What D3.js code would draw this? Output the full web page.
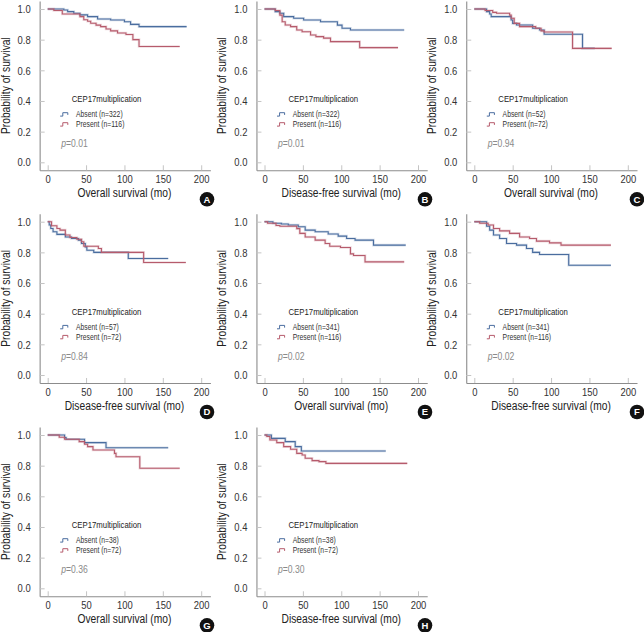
<!DOCTYPE html>
<html>
<head>
<meta charset="utf-8">
<script src="https://cdn.jsdelivr.net/npm/d3@7"></script>
<style>
  html, body { margin: 0; padding: 0; background: #fff; }
  svg { display: block; }
  text { font-family: 'Liberation Sans', Arial, sans-serif; }
</style>
</head>
<body>
<svg id="chart" width="644" height="632"></svg>
<script>
// ---------------- data ----------------
const xTicks = [0, 50, 100, 150, 200];
const yTicks = [0, 0.2, 0.4, 0.6, 0.8, 1.0];
const panelLetters = ["A", "B", "C", "D", "E", "F", "G", "H"];
const xTitles = ["Overall survival (mo)", "Disease-free survival (mo)", "Overall survival (mo)",
  "Disease-free survival (mo)", "Overall survival (mo)", "Disease-free survival (mo)",
  "Overall survival (mo)", "Disease-free survival (mo)"];
const yTitle = "Probability of survival";
const legendTitle = "CEP17multiplication";
const absentN = [322, 322, 52, 57, 341, 341, 38, 38];
const presentN = [116, 116, 72, 72, 116, 116, 72, 72];
const pValues = ["0.01", "0.01", "0.94", "0.84", "0.02", "0.02", "0.36", "0.30"];

// step curves: [time (mo), survival from that time on]
const absentA = [[0,1],[21,0.993],[26,0.983],[34,0.972],[42,0.962],[52,0.95],[65,0.935],[82,0.928],[100,0.917],[108,0.90],[119,0.885],[181,0.885]];
const presentA = [[0,1],[8,0.99],[19,0.967],[42,0.95],[47,0.93],[52,0.92],[56,0.907],[63,0.895],[69,0.885],[76,0.87],[82,0.857],[91,0.843],[102,0.834],[111,0.80],[119,0.755],[172,0.755]];
const absentB = [[0,1],[14,0.983],[20,0.972],[25,0.95],[38,0.94],[51,0.928],[73,0.917],[95,0.895],[101,0.874],[112,0.863],[182,0.863]];
const presentB = [[0,1],[14,0.99],[20,0.96],[23,0.917],[27,0.896],[34,0.885],[42,0.863],[49,0.852],[60,0.83],[67,0.82],[77,0.81],[86,0.787],[124,0.748],[174,0.748]];
const absentC = [[0,1],[16,0.983],[20,0.967],[22,0.95],[48,0.928],[50,0.906],[55,0.896],[76,0.874],[85,0.863],[91,0.835],[141,0.743],[157,0.743]];
const presentC = [[0,1],[14,0.99],[24,0.978],[29,0.972],[46,0.96],[48,0.94],[52,0.906],[59,0.885],[80,0.874],[87,0.857],[91,0.85],[128,0.743],[179,0.743]];
const absentD = [[0,1],[2,0.978],[4,0.956],[7,0.934],[12,0.917],[23,0.90],[31,0.89],[40,0.88],[44,0.858],[49,0.836],[51,0.814],[60,0.80],[105,0.76],[157,0.76]];
const presentD = [[0,1],[5,0.974],[12,0.956],[16,0.945],[23,0.913],[29,0.897],[38,0.886],[44,0.869],[47,0.84],[66,0.825],[70,0.80],[125,0.734],[180,0.734]];
const absentE = [[0,1],[11,0.99],[22,0.985],[31,0.978],[44,0.967],[53,0.945],[66,0.934],[83,0.92],[96,0.906],[107,0.89],[118,0.88],[142,0.847],[184,0.847]];
const presentE = [[0,1],[4,0.99],[15,0.975],[20,0.97],[42,0.955],[46,0.924],[53,0.90],[66,0.88],[79,0.858],[85,0.84],[99,0.832],[112,0.79],[116,0.78],[131,0.738],[182,0.738]];
const absentF = [[0,1],[16,0.97],[20,0.945],[25,0.913],[33,0.89],[42,0.858],[55,0.847],[68,0.825],[76,0.80],[85,0.786],[123,0.716],[178,0.716]];
const presentF = [[0,1],[7,0.99],[18,0.978],[25,0.956],[33,0.94],[46,0.924],[59,0.90],[72,0.89],[81,0.873],[98,0.862],[113,0.847],[178,0.847]];
const absentG = [[0,1],[22,0.983],[24,0.972],[48,0.95],[76,0.917],[157,0.917]];
const presentG = [[0,1],[15,0.985],[22,0.972],[41,0.957],[48,0.94],[52,0.924],[59,0.902],[87,0.88],[89,0.858],[120,0.783],[172,0.783]];
const absentH = [[0,1],[9,0.978],[27,0.957],[40,0.924],[48,0.896],[158,0.896]];
const presentH = [[0,1],[3,0.99],[7,0.967],[16,0.95],[25,0.924],[34,0.907],[42,0.88],[49,0.87],[53,0.848],[62,0.833],[71,0.826],[80,0.815],[186,0.815]];

const absentCurves = [absentA, absentB, absentC, absentD, absentE, absentF, absentG, absentH];
const presentCurves = [presentA, presentB, presentC, presentD, presentE, presentF, presentG, presentH];

// ---------------- layout ----------------
const colX0 = [47.7, 264.5, 474.3];
const rowY1 = [9, 221.7, 435];
const letterX = [207, 425, 637];
const plotW = 153.5, plotH = 153.3;
const blue = "#4a6d9f", red = "#b65b6c";
const NARROW = 0.82;

const svg = d3.select("#chart");

// condensed text: regular font squeezed horizontally
function ntext(g, x, y, str, size, fill, anchor, rotate) {
  const t = g.append("text")
    .attr("transform", `translate(${x},${y})` + (rotate ? ` rotate(${rotate})` : "") + ` scale(${NARROW},1)`)
    .attr("font-size", size).attr("fill", fill).attr("text-anchor", anchor || "start");
  if (str !== null) t.text(str);
  return t;
}

function drawPanel(i) {
  const col = i % 3, row = Math.floor(i / 3);
  const x0 = colX0[col], yTop = rowY1[row];
  const xs = d3.scaleLinear().domain([0, 200]).range([x0, x0 + plotW]);
  const ys = d3.scaleLinear().domain([0, 1]).range([yTop + plotH, yTop]);
  const xa = d3.scaleLinear().domain([-10.5, 212]).range([xs(-10.5), xs(212)]);
  const ya = d3.scaleLinear().domain([-0.052, 1.052]).range([ys(-0.052), ys(1.052)]);
  const axX = xs(-10.5), axY = ys(-0.052);
  const g = svg.append("g");

  const gy = g.append("g").attr("transform", `translate(${axX},0)`)
    .call(d3.axisLeft(ya).tickValues(yTicks).tickFormat(d3.format(".1f")).tickSize(-5).tickSizeOuter(0).tickPadding(9));
  const gx = g.append("g").attr("transform", `translate(0,${axY})`)
    .call(d3.axisBottom(xa).tickValues(xTicks).tickSize(-5).tickSizeOuter(0).tickPadding(5));
  [gy, gx].forEach(a => {
    a.select(".domain").attr("stroke", "#8c8c8c").attr("stroke-width", 1.1);
    a.selectAll(".tick line").attr("stroke", "#c4c4c4");
    a.selectAll(".tick text").attr("fill", "#333").attr("font-size", 11.5)
      .attr("font-family", "'Liberation Sans', Arial, sans-serif");
  });
  gy.selectAll(".tick text").attr("x", -9 / NARROW).attr("transform", `scale(${NARROW},1)`);
  gx.selectAll(".tick text").attr("transform", `scale(${NARROW},1)`);

  // titles
  ntext(g, (xs(0) + xs(200)) / 2, ys(0) + 35, xTitles[i], 12.5, "#222", "middle");
  ntext(g, axX - 30, (ys(0) + ys(1)) / 2, yTitle, 12.5, "#222", "middle", -90);

  // curves
  const line = d3.line().x(d => xs(d[0])).y(d => ys(d[1])).curve(d3.curveStepAfter);
  [[absentCurves[i], blue], [presentCurves[i], red]].forEach(([data, c]) => {
    g.append("path").datum(data).attr("d", line).attr("fill", "none")
      .attr("stroke", c).attr("stroke-opacity", 0.22).attr("stroke-width", 2.6);
    g.append("path").datum(data).attr("d", line).attr("fill", "none")
      .attr("stroke", c).attr("stroke-width", 1.1);
  });

  // legend
  ntext(g, x0 + 24, ys(0) - 63.3, legendTitle, 9.5, "#222").attr("dy", "0.35em");
  const entries = [["Absent (n=" + absentN[i] + ")", blue], ["Present (n=" + presentN[i] + ")", red]];
  entries.forEach(([lab, c], k) => {
    const ey = ys(0) - 48 + k * 10;
    const sx = x0 + 12.5;
    g.append("path").attr("d", `M${sx},${ey + 1.8} H${sx + 2.6} V${ey - 1.6} H${sx + 7.6} V${ey + 0.6}`)
      .attr("fill", "none").attr("stroke", c).attr("stroke-width", 1);
    ntext(g, x0 + 28.3, ey, lab, 8.3, "#333").attr("dy", "0.35em");
  });
  const pt = ntext(g, x0 + 13.5, ys(0) - 19, null, 10.5, "#8a8a8a").attr("dy", "0.35em");
  pt.append("tspan").attr("font-style", "italic").text("p");
  pt.append("tspan").text("=" + pValues[i]);

  // panel letter
  const cy = ys(0) + 37;
  g.append("circle").attr("cx", letterX[col]).attr("cy", cy).attr("r", 7.3).attr("fill", "#111");
  g.append("text").attr("x", letterX[col]).attr("y", cy).attr("dy", "0.36em").attr("text-anchor", "middle")
    .attr("font-size", 9.5).attr("font-weight", "bold").attr("fill", "#fff").text(panelLetters[i]);
}

panelLetters.forEach((_, i) => drawPanel(i));
</script>
</body>
</html>
